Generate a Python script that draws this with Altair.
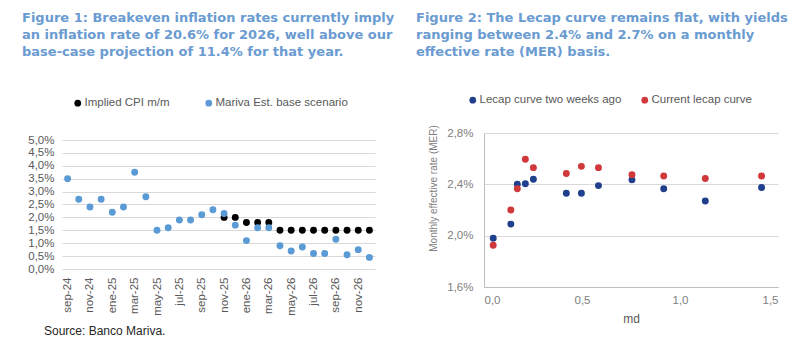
import altair as alt
import pandas as pd

# ---------------- data ----------------
months = ["sep-24", "oct-24", "nov-24", "dic-24", "ene-25", "feb-25", "mar-25", "abr-25",
          "may-25", "jun-25", "jul-25", "ago-25", "sep-25", "oct-25", "nov-25", "dic-25",
          "ene-26", "feb-26", "mar-26", "abr-26", "may-26", "jun-26", "jul-26", "ago-26",
          "sep-26", "oct-26", "nov-26", "dic-26"]
mariva = [3.5, 2.7, 2.4, 2.7, 2.2, 2.4, 3.75, 2.8, 1.5, 1.6, 1.9, 1.9, 2.1, 2.3, 2.15, 1.7,
          1.1, 1.6, 1.6, 0.9, 0.7, 0.85, 0.6, 0.6, 1.15, 0.55, 0.75, 0.45]
implied = [None] * 14 + [2.0, 2.0, 1.8, 1.8, 1.8, 1.5, 1.5, 1.5, 1.5, 1.5, 1.5, 1.5, 1.5, 1.5]
month_ticks = months[::2]
left_series = ["Implied CPI m/m", "Mariva Est. base scenario"]
left_ticks = [0.0, 0.5, 1.0, 1.5, 2.0, 2.5, 3.0, 3.5, 4.0, 4.5, 5.0]

md = [0.047, 0.137, 0.170, 0.211, 0.252, 0.420, 0.497, 0.584, 0.755, 0.917, 1.129, 1.416]
lecap_prev = [1.98, 2.09, 2.40, 2.405, 2.44, 2.33, 2.33, 2.39, 2.435, 2.365, 2.27, 2.375]
lecap_curr = [1.925, 2.20, 2.365, 2.595, 2.53, 2.485, 2.54, 2.53, 2.475, 2.465, 2.445, 2.465]
right_series = ["Lecap curve two weeks ago", "Current lecap curve"]
right_yticks = [1.6, 2.0, 2.4, 2.8]
right_xticks = [0.0, 0.5, 1.0, 1.5]

title_left = ["Figure 1: Breakeven inflation rates currently imply",
              "an inflation rate of 20.6% for 2026, well above our",
              "base-case projection of 11.4% for that year."]
title_right = ["Figure 2: The Lecap curve remains flat, with yields",
               "ranging between 2.4% and 2.7% on a monthly",
               "effective rate (MER) basis."]
source_text = "Source: Banco Mariva."

# ---------------- tables ----------------
rows = []
for m, v in zip(months, implied):
    if v is not None:
        rows.append({"month": m, "value": v, "series": left_series[0]})
for m, v in zip(months, mariva):
    rows.append({"month": m, "value": v, "series": left_series[1]})
df_left = pd.DataFrame(rows)

rows = []
for x, v in zip(md, lecap_prev):
    rows.append({"md": x, "value": v, "series": right_series[0]})
for x, v in zip(md, lecap_curr):
    rows.append({"md": x, "value": v, "series": right_series[1]})
df_right = pd.DataFrame(rows)

TITLE_COLOR = "#6A9BD1"
LABEL_FONT = "Liberation Sans"
comma_pct = "replace(format(datum.value, '.1f'), '.', ',') + '%'"
comma_num = "replace(format(datum.value, '.1f'), '.', ',')"

# ---------------- left panel ----------------
LW, LH = 313, 136
left_points = alt.Chart(df_left).mark_circle(size=48, opacity=1).encode(
    x=alt.X("month:N", sort=months,
            scale=alt.Scale(type="point", padding=0.5),
            axis=alt.Axis(values=month_ticks, labelAngle=270, domain=False, ticks=False,
                          grid=False, labelPadding=8, labelColor="#595959",
                          labelFontSize=11.5, labelFont=LABEL_FONT, title=None)),
    y=alt.Y("value:Q",
            scale=alt.Scale(domain=[0, 5.0 * 136 / 129], nice=False, zero=True),
            axis=alt.Axis(values=left_ticks, labelExpr=comma_pct, domain=False, ticks=False,
                          grid=True, gridColor="#D9D9D9", labelPadding=8,
                          labelColor="#595959", labelFontSize=11.5, labelFont=LABEL_FONT,
                          title=None)),
    color=alt.Color("series:N",
                    scale=alt.Scale(domain=left_series, range=["#000000", "#5B9BD5"]),
                    legend=alt.Legend(orient="none", legendX=10, legendY=-36,
                                      direction="horizontal", title=None,
                                      symbolType="circle", symbolSize=45,
                                      symbolStrokeWidth=0, symbolOpacity=1,
                                      labelFontSize=11.5, labelColor="#595959",
                                      labelFont=LABEL_FONT, columnPadding=33,
                                      labelOffset=1, padding=0)),
)

left_title = alt.Chart(pd.DataFrame({"t": ["\n".join(title_left)]})).mark_text(
    align="left", baseline="alphabetic", font="DejaVu Sans", fontWeight="bold",
    fontSize=13, color=TITLE_COLOR, lineBreak="\n", lineHeight=17
).encode(text="t:N", x=alt.value(-40), y=alt.value(-111.3))

left_source = alt.Chart(pd.DataFrame({"t": [source_text]})).mark_text(
    align="left", baseline="alphabetic", font=LABEL_FONT, fontSize=12, color="#262626"
).encode(text="t:N", x=alt.value(-18), y=alt.value(202))

left = alt.layer(left_points, left_title, left_source).properties(width=LW, height=LH)

# ---------------- right panel ----------------
RW, RH = 294, 154
right_points = alt.Chart(df_right).mark_circle(size=48, opacity=1).encode(
    x=alt.X("md:Q", scale=alt.Scale(domain=[0, 1.5], nice=False),
            axis=alt.Axis(values=right_xticks, labelExpr=comma_num, domain=True,
                          domainColor="#BFBFBF", ticks=False, grid=False, labelPadding=7,
                          labelColor="#808080", labelFontSize=11.5, labelFont=LABEL_FONT,
                          title="md", titleFontSize=12, titleFontWeight="normal",
                          titleColor="#595959", titleFont=LABEL_FONT, titlePadding=8)),
    y=alt.Y("value:Q", scale=alt.Scale(domain=[1.6, 2.8], nice=False, zero=False),
            axis=alt.Axis(values=right_yticks, labelExpr=comma_pct, domain=True,
                          domainColor="#BFBFBF", ticks=False, grid=True,
                          gridColor="#D9D9D9", labelPadding=11, labelColor="#808080",
                          labelFontSize=11.5, labelFont=LABEL_FONT,
                          title="Monthly effective rate (MER)", titleFontSize=10,
                          titleFontWeight="normal", titleColor="#808080",
                          titleFont=LABEL_FONT, titleX=-51, titleY=55, titleAngle=270,
                          titleAlign="center", titleBaseline="middle")),
    color=alt.Color("series:N",
                    scale=alt.Scale(domain=right_series, range=["#203F8C", "#D0383C"]),
                    legend=alt.Legend(orient="none", legendX=-17, legendY=-39,
                                      direction="horizontal", title=None,
                                      symbolType="circle", symbolSize=45,
                                      symbolStrokeWidth=0, symbolOpacity=1,
                                      labelFontSize=11.5, labelColor="#595959",
                                      labelFont=LABEL_FONT, columnPadding=17,
                                      labelOffset=1, padding=0)),
)

right_title = alt.Chart(pd.DataFrame({"t": ["\n".join(title_right)]})).mark_text(
    align="left", baseline="alphabetic", font="DejaVu Sans", fontWeight="bold",
    fontSize=13, color=TITLE_COLOR, lineBreak="\n", lineHeight=17
).encode(text="t:N", x=alt.value(-68), y=alt.value(-111.3))

right = alt.layer(right_points, right_title).properties(width=RW, height=RH)

chart = alt.hconcat(left, right, spacing=109, bounds="flush").resolve_scale(
    color="independent", x="independent", y="independent"
).resolve_legend(color="independent").properties(
    padding={"left": 22, "top": 11, "right": 0, "bottom": 0},
    background="white",
).configure_view(stroke=None)

chart.save("out.html", embed_options={"renderer": "svg", "actions": False})
